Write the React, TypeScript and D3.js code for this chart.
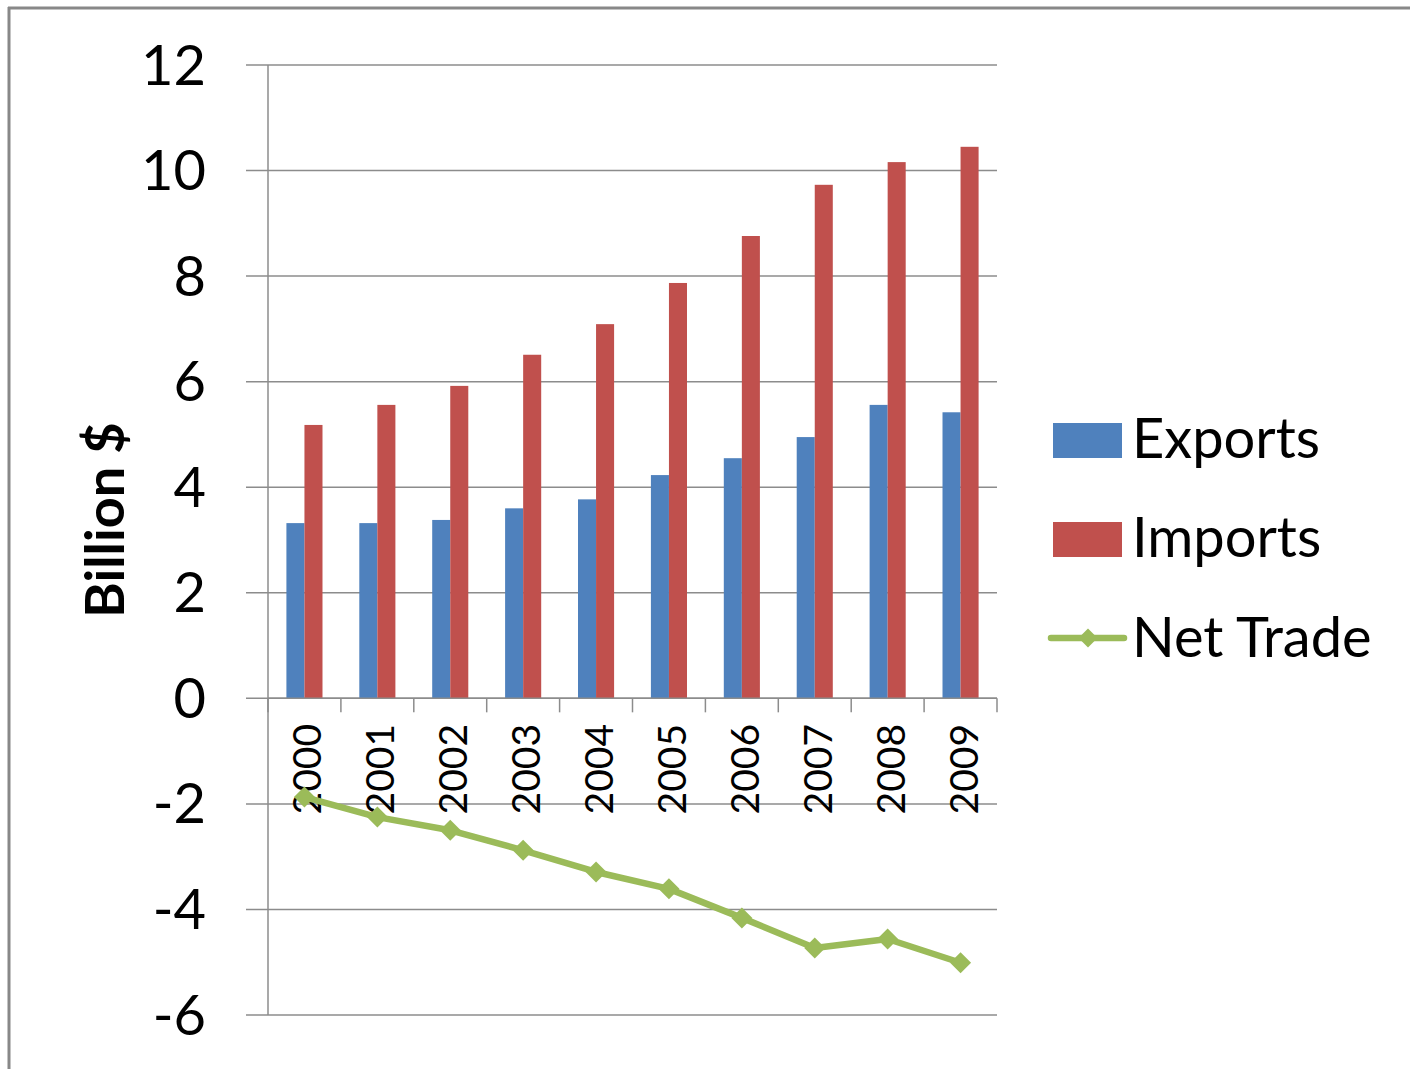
import React from "react";
import * as d3 from "d3";

const years = ["2000", "2001", "2002", "2003", "2004", "2005", "2006", "2007", "2008", "2009"];
const exportsValues = [3.32, 3.32, 3.38, 3.6, 3.77, 4.23, 4.55, 4.95, 5.56, 5.42];
const importsValues = [5.18, 5.56, 5.92, 6.51, 7.09, 7.87, 8.76, 9.73, 10.16, 10.45];
const netTradeValues = [-1.87, -2.25, -2.5, -2.88, -3.29, -3.61, -4.16, -4.73, -4.56, -5.01];
const yTicks = [12, 10, 8, 6, 4, 2, 0, -2, -4, -6];
const seriesNames = ["Exports", "Imports", "Net Trade"];

const COLORS = { exports: "#4F81BD", imports: "#C0504D", net: "#9BBB59" };
const FONT = "Lato, 'Open Sans', sans-serif";

export default function App() {
  const W = 1410;
  const H = 1069;
  const plot = { left: 268, right: 997, top: 65, bottom: 1015 };

  const y = d3.scaleLinear().domain([-6, 12]).range([plot.bottom, plot.top]);
  const x = d3.scaleBand().domain(years).range([plot.left, plot.right]).paddingInner(0).paddingOuter(0);
  const inner = d3
    .scaleBand()
    .domain(["exports", "imports"])
    .range([0, x.bandwidth()])
    .paddingOuter(1.02)
    .paddingInner(0);

  const lineGen = d3
    .line<number>()
    .x((_, i) => (x(years[i]) as number) + x.bandwidth() / 2)
    .y((d) => y(d));

  const diamond = (cx: number, cy: number, r: number) =>
    `M${cx},${cy - r}L${cx + r},${cy}L${cx},${cy + r}L${cx - r},${cy}Z`;

  const zeroY = y(0);
  const boundaries = [...years.map((yr) => x(yr) as number), plot.right];

  return (
    <svg
      width={W}
      height={H}
      style={{ position: "absolute", left: 0, top: 0, background: "#fff" }}
      fontFamily={FONT}
    >
      <rect x={0} y={0} width={W} height={H} fill="#fff" />
      {/* outer frame */}
      <line x1={8} x2={W} y1={8} y2={8} stroke="#888" strokeWidth={3} />
      <line x1={9} x2={9} y1={7} y2={H} stroke="#888" strokeWidth={3} />

      {/* gridlines */}
      {yTicks.map((t) => (
        <line
          key={"g" + t}
          x1={246}
          x2={plot.right}
          y1={y(t)}
          y2={y(t)}
          stroke="#8c8c8c"
          strokeWidth={1.5}
        />
      ))}
      {/* y axis line */}
      <line x1={plot.left} x2={plot.left} y1={plot.top} y2={plot.bottom} stroke="#8c8c8c" strokeWidth={1.5} />

      {/* y tick labels */}
      {yTicks.map((t) => (
        <text
          key={"yl" + t}
          x={206}
          y={y(t) - 2}
          textAnchor="end"
          dominantBaseline="central"
          fontSize={56}
          fill="#000"
        >
          {t}
        </text>
      ))}

      {/* axis title */}
      <text
        transform={`translate(103,520) rotate(-90)`}
        textAnchor="middle"
        dominantBaseline="central"
        fontSize={54}
        fontWeight="bold"
        fill="#000"
      >
        Billion $
      </text>

      {/* bars */}
      {years.map((yr, i) => {
        const x0 = x(yr) as number;
        return (
          <g key={"b" + yr}>
            <rect
              x={x0 + (inner("exports") as number)}
              y={y(exportsValues[i])}
              width={inner.bandwidth()}
              height={zeroY - y(exportsValues[i])}
              fill={COLORS.exports}
            />
            <rect
              x={x0 + (inner("imports") as number)}
              y={y(importsValues[i])}
              width={inner.bandwidth()}
              height={zeroY - y(importsValues[i])}
              fill={COLORS.imports}
            />
          </g>
        );
      })}

      {/* category axis at zero */}
      <line x1={plot.left} x2={plot.right} y1={zeroY} y2={zeroY} stroke="#8c8c8c" strokeWidth={1.5} />
      {boundaries.map((bx, i) => (
        <line key={"t" + i} x1={bx} x2={bx} y1={zeroY} y2={zeroY + 14} stroke="#8c8c8c" strokeWidth={1.5} />
      ))}
      {years.map((yr) => {
        const cx = (x(yr) as number) + x.bandwidth() / 2 + 2;
        return (
          <text
            key={"xl" + yr}
            transform={`translate(${cx},724) rotate(-90)`}
            textAnchor="end"
            dominantBaseline="central"
            fontSize={39}
            fill="#000"
          >
            {yr}
          </text>
        );
      })}

      {/* net trade line */}
      <path d={lineGen(netTradeValues) || ""} fill="none" stroke={COLORS.net} strokeWidth={6.5} strokeLinejoin="round" />
      {netTradeValues.map((v, i) => (
        <path
          key={"m" + i}
          d={diamond((x(years[i]) as number) + x.bandwidth() / 2, y(v), 10.5)}
          fill={COLORS.net}
        />
      ))}

      {/* legend */}
      <g>
        <rect x={1053} y={423} width={69} height={35} fill={COLORS.exports} />
        <text x={1132} y={458} fontSize={56} fill="#000">
          {seriesNames[0]}
        </text>
        <rect x={1053} y={522} width={69} height={35} fill={COLORS.imports} />
        <text x={1132} y={557} fontSize={56} fill="#000">
          {seriesNames[1]}
        </text>
        <line x1={1051} x2={1124} y1={638} y2={638} stroke={COLORS.net} strokeWidth={6.5} strokeLinecap="round" />
        <path d={diamond(1088, 638, 9.5)} fill={COLORS.net} />
        <text x={1132} y={657} fontSize={56} fill="#000">
          {seriesNames[2]}
        </text>
      </g>
    </svg>
  );
}
